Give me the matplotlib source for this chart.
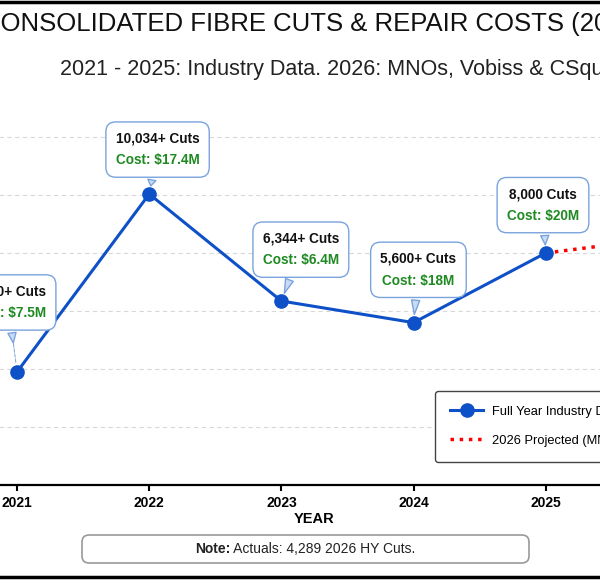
import matplotlib
matplotlib.use("Agg")
import matplotlib.pyplot as plt
from matplotlib.lines import Line2D
from matplotlib.patches import FancyBboxPatch

plt.rcParams["font.family"] = ["Liberation Sans", "DejaVu Sans"]

# data
years = [2021, 2022, 2023, 2024, 2025]
cuts = [3900, 10034, 6344, 5600, 8000]
cut_labels = ["3,900+ Cuts", "10,034+ Cuts", "6,344+ Cuts", "5,600+ Cuts", "8,000 Cuts"]
cost_labels = ["Cost: $7.5M", "Cost: $17.4M", "Cost: $6.4M", "Cost: $18M", "Cost: $20M"]
proj_years = [2025, 2026]
proj_cuts = [8000, 8578]
yticks = [0, 2000, 4000, 6000, 8000, 10000, 12000]

# label box offsets (points) and how far the pointer stops short of the dot
offsets = [(-6.5, 50), (6, 32), (14, 37), (3.5, 38), (-2, 34.5)]
pointer_shrink = [21, 6, 6, 6, 6]

blue = "#0d50c8"
box_edge = "#7aa3dd"
green = "#1f8a22"
fs = 9.8

fig = plt.figure(figsize=(6.0, 5.83), dpi=100)
ax = fig.add_axes([-0.0817, 0.1681, 1.3217, 0.6864])

ax.plot(years, cuts, color=blue, lw=2.2, marker="o", markersize=9.5,
        label="Full Year Industry Data (2021-2025)", zorder=4)
ax.plot(proj_years, proj_cuts, color="red", lw=2.5, linestyle=":",
        label="2026 Projected (MNOs, Vobiss & CSquared)", zorder=3)

box_style = "round,pad=0.72"
for i in range(len(years)):
    txt = cut_labels[i] + "\n" + cost_labels[i]
    # box with thin dashed leader
    ax.annotate(txt, xy=(years[i], cuts[i]),
                xytext=offsets[i], textcoords="offset points", ha="center", va="center",
                fontsize=fs, fontweight="bold", color="none", linespacing=1.7,
                bbox=dict(boxstyle=box_style, fc="white", ec=box_edge, lw=1),
                arrowprops=dict(arrowstyle="-", color=box_edge, lw=0.7, ls="--", shrinkB=6),
                zorder=6)
    # short wedge pointer
    ax.annotate(txt, xy=(years[i], cuts[i]),
                xytext=offsets[i], textcoords="offset points", ha="center", va="center",
                fontsize=fs, fontweight="bold", color="none", linespacing=1.7,
                bbox=dict(boxstyle=box_style, fc="none", ec="none"),
                arrowprops=dict(arrowstyle="wedge,tail_width=0.6", fc="#c9dcf3",
                                ec=box_edge, lw=1, shrinkB=pointer_shrink[i]),
                zorder=6)
    ax.annotate(cut_labels[i] + "\n ", xy=(years[i], cuts[i]), xytext=offsets[i],
                textcoords="offset points", ha="center", va="center", fontsize=fs,
                fontweight="bold", color="#111111", linespacing=1.7, zorder=7)
    ax.annotate(" \n" + cost_labels[i], xy=(years[i], cuts[i]), xytext=offsets[i],
                textcoords="offset points", ha="center", va="center", fontsize=fs,
                fontweight="bold", color=green, linespacing=1.7, zorder=7)

ax.set_xlim(2020.5, 2026.5)
ax.set_ylim(0, 13800)
ax.set_xticks(years)
ax.set_xticklabels([str(y) for y in years], fontsize=10, fontweight="bold")
ax.set_yticks(yticks)
ax.tick_params(axis="y", left=False, labelleft=False)
ax.tick_params(axis="x", length=4, width=1.5, color="black", pad=4)
ax.grid(axis="y", color="#d8d8d8", linestyle=(0, (4, 3)), lw=0.8)
ax.set_axisbelow(True)
for side in ["top", "right", "left"]:
    ax.spines[side].set_visible(False)
ax.spines["bottom"].set_linewidth(1.6)
ax.spines["bottom"].set_color("black")

ax.set_xlabel("YEAR", fontsize=10.5, fontweight="bold")
ax.xaxis.set_label_coords(0.4577, -0.068)

leg = ax.legend(loc="upper left", bbox_to_anchor=(435 / 600, 1 - 391 / 583),
                bbox_transform=fig.transFigure, borderaxespad=0, fontsize=9.3,
                frameon=True, fancybox=True, framealpha=1, edgecolor="#444444",
                borderpad=1.15, labelspacing=1.3, handlelength=2.6, handletextpad=0.7)
leg.get_frame().set_linewidth(1.0)

fig.text(-18 / 600, 1 - 24 / 583, "CONSOLIDATED FIBRE CUTS & REPAIR COSTS (2021-2026)",
         fontsize=18.5, ha="left", va="center", color="#111111")
fig.text(60 / 600, 1 - 70 / 583, "2021 - 2025: Industry Data. 2026: MNOs, Vobiss & CSquared",
         fontsize=15.5, ha="left", va="center", color="#222222")

fig.add_artist(FancyBboxPatch((82 / 600, 1 - 563 / 583), 447 / 600, 28 / 583,
                              boxstyle="round,pad=0,rounding_size=0.012",
                              transform=fig.transFigure, fc="white", ec="#999999", lw=1.2))

# note line: bold lead-in followed by regular text, centred as a pair
renderer = fig.canvas.get_renderer()
note_y = 1 - 549 / 583
t1 = fig.text(0, note_y, "Note:", fontsize=10, fontweight="bold", ha="left",
              va="center", color="#222222")
t2 = fig.text(0, note_y, " Actuals: 4,289 2026 HY Cuts.", fontsize=10, ha="left",
              va="center", color="#222222")
w1 = t1.get_window_extent(renderer).width / fig.bbox.width
w2 = t2.get_window_extent(renderer).width / fig.bbox.width
x0 = 305 / 600 - (w1 + w2) / 2
t1.set_x(x0)
t2.set_x(x0 + w1)

fig.add_artist(Line2D([0, 1], [1 - 2 / 583, 1 - 2 / 583], transform=fig.transFigure,
                      color="black", lw=2.5))
fig.add_artist(Line2D([0, 1], [1 - 577 / 583, 1 - 577 / 583], transform=fig.transFigure,
                      color="black", lw=2.5))

fig.savefig("out.png", dpi=100)
